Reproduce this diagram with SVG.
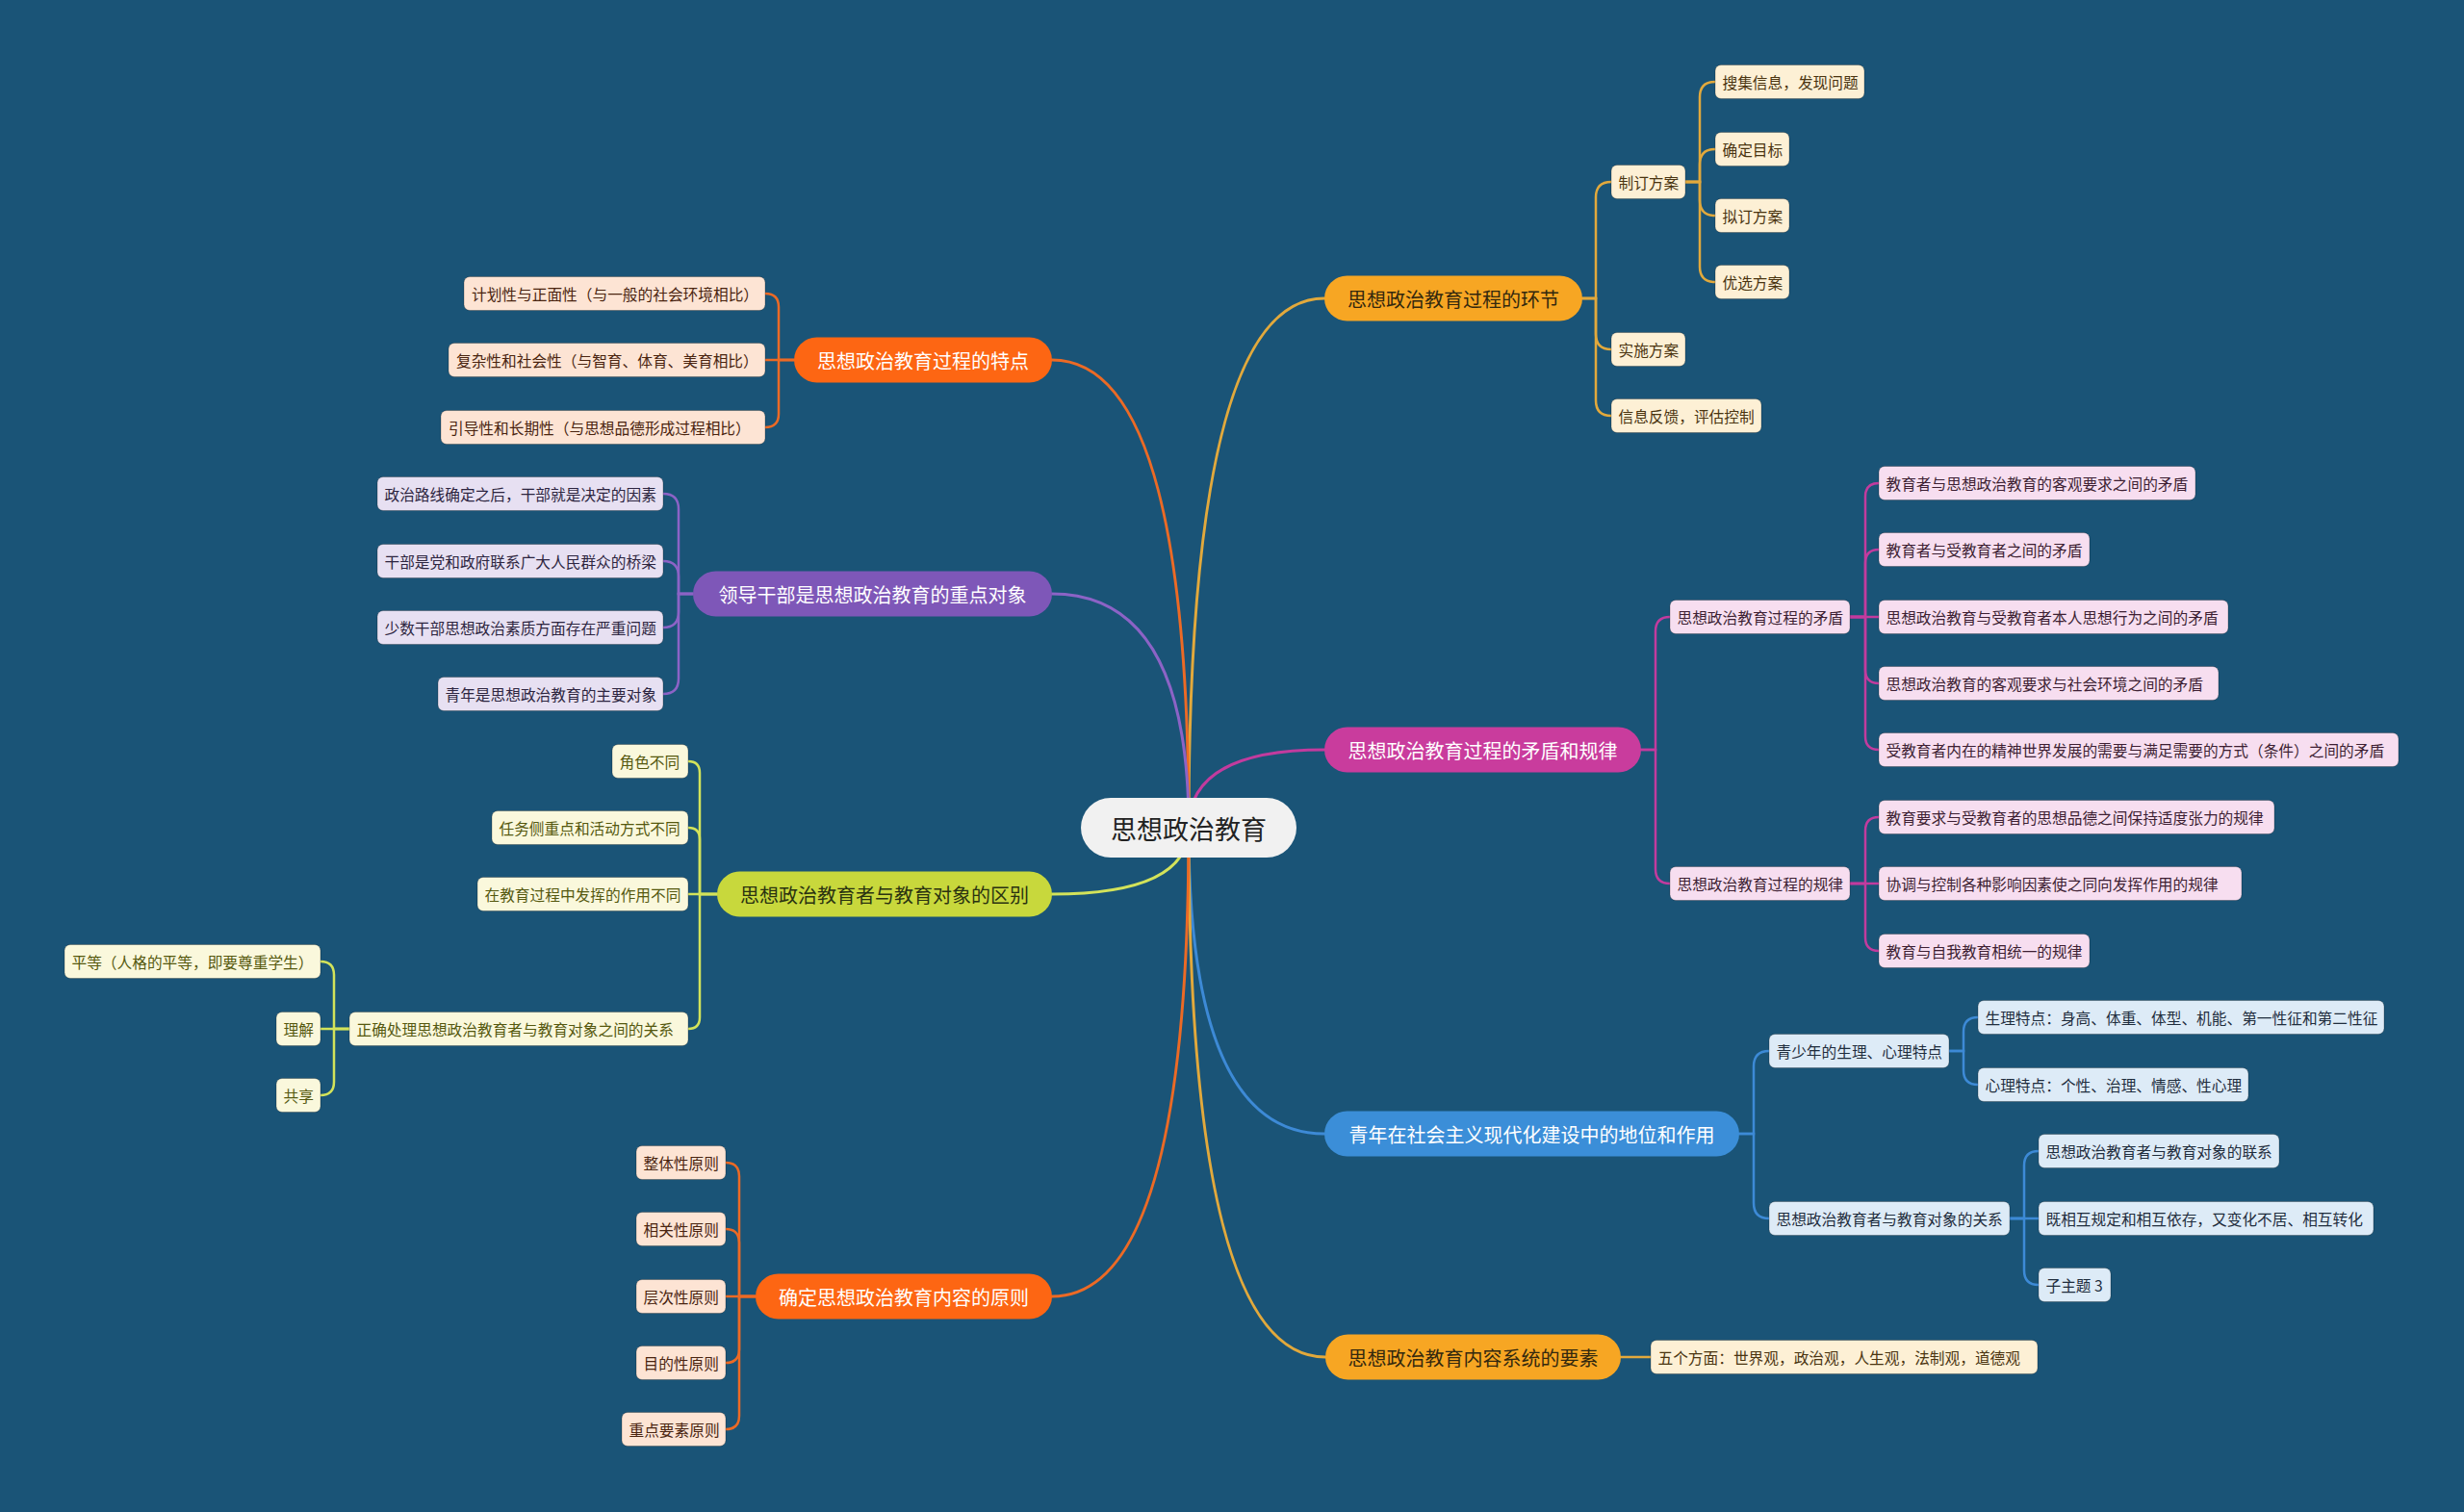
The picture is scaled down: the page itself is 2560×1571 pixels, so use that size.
<svg xmlns="http://www.w3.org/2000/svg" width="2560" height="1571" viewBox="0 0 2560 1571">
<style>
text{font-family:"Noto Sans CJK SC","Noto Sans",sans-serif;dominant-baseline:central}
.m{font-size:20px;text-anchor:middle}
.s{font-size:15.7px}
.c{fill:none;stroke-width:2.5;stroke-linecap:round}
.mc{fill:none;stroke-width:3;stroke-linecap:round}
.sn{stroke:rgba(0,0,0,0.25);stroke-width:1}
.amb{stroke:#E2A93C}.mag{stroke:#C23B9E}.blu{stroke:#3D8AD6}.org{stroke:#EC6A25}.pur{stroke:#8C63C6}.lim{stroke:#D3E35A}
.fa{fill:#F7A623}.fm{fill:#C93C9D}.fb{fill:#3B8ED8}.fo{fill:#FD6613}.fp{fill:#7E57B8}.fl{fill:#C8D83C}
.ca{fill:#FDF0D5}.cm{fill:#F7DEF0}.cb{fill:#DDEBF7}.co{fill:#FDE4D4}.cp{fill:#E7E0F2}.cl{fill:#FAF8DC}
.ta{fill:#4A3410}.tm{fill:#3D1F33}.tb{fill:#1F2D3D}.to{fill:#4A2410}.tp{fill:#2D2540}.tl{fill:#55580F}
.w{fill:#FFFFFF}.d{fill:#33280E}
</style>
<rect x="0" y="0" width="2560" height="1571" fill="#1A5477"/>
<g id="connectors">
<path class="mc amb" d="M1235 860 Q1235 310 1376 310"/>
<path class="mc mag" d="M1235 860 Q1235 779 1376 779"/>
<path class="mc blu" d="M1235 860 Q1235 1178 1376 1178"/>
<path class="mc amb" d="M1235 860 Q1235 1410 1377 1410"/>
<path class="mc org" d="M1235 860 Q1235 374 1093 374"/>
<path class="mc pur" d="M1235 860 Q1235 617 1093 617"/>
<path class="mc lim" d="M1235 860 Q1235 929 1093 929"/>
<path class="mc org" d="M1235 860 Q1235 1347 1093 1347"/>
<path class="c amb" d="M1644 310 H1658 V205 Q1658 189 1674 189"/>
<path class="c amb" d="M1644 310 H1658 V347 Q1658 363 1674 363"/>
<path class="c amb" d="M1644 310 H1658 V416 Q1658 432 1674 432"/>
<path class="c amb" d="M1751 189 H1766 V101 Q1766 85 1782 85"/>
<path class="c amb" d="M1751 189 H1766 V171 Q1766 155 1782 155"/>
<path class="c amb" d="M1751 189 H1766 V208 Q1766 224 1782 224"/>
<path class="c amb" d="M1751 189 H1766 V277 Q1766 293 1782 293"/>
<path class="c mag" d="M1705 779 H1720 V656 Q1720 641 1735 641"/>
<path class="c mag" d="M1705 779 H1720 V903 Q1720 918 1735 918"/>
<path class="c mag" d="M1922 641 H1938 V516 Q1938 502 1952 502"/>
<path class="c mag" d="M1922 641 H1938 V585 Q1938 571 1952 571"/>
<path class="c mag" d="M1922 641 H1952"/>
<path class="c mag" d="M1922 641 H1938 V696 Q1938 710 1952 710"/>
<path class="c mag" d="M1922 641 H1938 V765 Q1938 779 1952 779"/>
<path class="c mag" d="M1922 918 H1938 V863 Q1938 849 1952 849"/>
<path class="c mag" d="M1922 918 H1952"/>
<path class="c mag" d="M1922 918 H1938 V974 Q1938 988 1952 988"/>
<path class="c blu" d="M1807 1178 H1822 V1108 Q1822 1092 1838 1092"/>
<path class="c blu" d="M1807 1178 H1822 V1250 Q1822 1266 1838 1266"/>
<path class="c blu" d="M2025 1092 H2040 V1072 Q2040 1057 2055 1057"/>
<path class="c blu" d="M2025 1092 H2040 V1112 Q2040 1127 2055 1127"/>
<path class="c blu" d="M2088 1266 H2103 V1211 Q2103 1196 2118 1196"/>
<path class="c blu" d="M2088 1266 H2118"/>
<path class="c blu" d="M2088 1266 H2103 V1320 Q2103 1335 2118 1335"/>
<path class="c amb" d="M1684 1410 H1715"/>
<path class="c org" d="M825 374 H809 V319 Q809 305 795 305"/>
<path class="c org" d="M825 374 H795"/>
<path class="c org" d="M825 374 H809 V430 Q809 444 795 444"/>
<path class="c pur" d="M720 617 H705 V529 Q705 513 689 513"/>
<path class="c pur" d="M720 617 H705 V599 Q705 583 689 583"/>
<path class="c pur" d="M720 617 H705 V636 Q705 652 689 652"/>
<path class="c pur" d="M720 617 H705 V705 Q705 721 689 721"/>
<path class="c lim" d="M745 929 H727 V803 Q727 791 715 791"/>
<path class="c lim" d="M745 929 H727 V872 Q727 860 715 860"/>
<path class="c lim" d="M745 929 H715"/>
<path class="c lim" d="M745 929 H727 V1057 Q727 1069 715 1069"/>
<path class="c lim" d="M363 1069 H347 V1013 Q347 999 333 999"/>
<path class="c lim" d="M363 1069 H333"/>
<path class="c lim" d="M363 1069 H347 V1124 Q347 1138 333 1138"/>
<path class="c org" d="M785 1347 H768 V1222 Q768 1208 754 1208"/>
<path class="c org" d="M785 1347 H768 V1291 Q768 1277 754 1277"/>
<path class="c org" d="M785 1347 H754"/>
<path class="c org" d="M785 1347 H768 V1402 Q768 1416 754 1416"/>
<path class="c org" d="M785 1347 H768 V1471 Q768 1485 754 1485"/>
</g>
<g id="center"><rect x="1123" y="829" width="224" height="62" rx="31" fill="#F1F1F1"/><text x="1235" y="860" font-size="27" text-anchor="middle" fill="#222222">思想政治教育</text></g>

<g id="n-huanjie"><rect class="fa" x="1376" y="286.5" width="268" height="47" rx="23.5"/><text class="m d" x="1510" y="310">思想政治教育过程的环节</text></g>
<g id="n-zhiding"><rect class="ca sn" x="1674" y="171.5" width="77" height="35" rx="6"/><text class="s ta" x="1681.5" y="189">制订方案</text></g>
<g id="n-souji"><rect class="ca sn" x="1782" y="67.5" width="155" height="35" rx="6"/><text class="s ta" x="1789.5" y="85">搜集信息，发现问题</text></g>
<g id="n-queding"><rect class="ca sn" x="1782" y="137.5" width="77" height="35" rx="6"/><text class="s ta" x="1789.5" y="155">确定目标</text></g>
<g id="n-niding"><rect class="ca sn" x="1782" y="206.5" width="77" height="35" rx="6"/><text class="s ta" x="1789.5" y="224">拟订方案</text></g>
<g id="n-youxuan"><rect class="ca sn" x="1782" y="275.5" width="77" height="35" rx="6"/><text class="s ta" x="1789.5" y="293">优选方案</text></g>
<g id="n-shishi"><rect class="ca sn" x="1674" y="345.5" width="77" height="35" rx="6"/><text class="s ta" x="1681.5" y="363">实施方案</text></g>
<g id="n-xinxi"><rect class="ca sn" x="1674" y="414.5" width="156" height="35" rx="6"/><text class="s ta" x="1681.5" y="432">信息反馈，评估控制</text></g>

<g id="n-maodunguilv"><rect class="fm" x="1376" y="755.5" width="329" height="47" rx="23.5"/><text class="m w" x="1540.5" y="779">思想政治教育过程的矛盾和规律</text></g>
<g id="n-maodun"><rect class="cm sn" x="1735" y="623.5" width="187" height="35" rx="6"/><text class="s tm" x="1742.5" y="641">思想政治教育过程的矛盾</text></g>
<g id="n-guilv"><rect class="cm sn" x="1735" y="900.5" width="187" height="35" rx="6"/><text class="s tm" x="1742.5" y="918">思想政治教育过程的规律</text></g>
<g id="n-m1"><rect class="cm sn" x="1952" y="484.5" width="329" height="35" rx="6"/><text class="s tm" x="1959.5" y="502">教育者与思想政治教育的客观要求之间的矛盾</text></g>
<g id="n-m2"><rect class="cm sn" x="1952" y="553.5" width="219" height="35" rx="6"/><text class="s tm" x="1959.5" y="571">教育者与受教育者之间的矛盾</text></g>
<g id="n-m3"><rect class="cm sn" x="1952" y="623.5" width="363" height="35" rx="6"/><text class="s tm" x="1959.5" y="641">思想政治教育与受教育者本人思想行为之间的矛盾</text></g>
<g id="n-m4"><rect class="cm sn" x="1952" y="692.5" width="353" height="35" rx="6"/><text class="s tm" x="1959.5" y="710">思想政治教育的客观要求与社会环境之间的矛盾</text></g>
<g id="n-m5"><rect class="cm sn" x="1952" y="761.5" width="540" height="35" rx="6"/><text class="s tm" x="1959.5" y="779">受教育者内在的精神世界发展的需要与满足需要的方式（条件）之间的矛盾</text></g>
<g id="n-g1"><rect class="cm sn" x="1952" y="831.5" width="411" height="35" rx="6"/><text class="s tm" x="1959.5" y="849">教育要求与受教育者的思想品德之间保持适度张力的规律</text></g>
<g id="n-g2"><rect class="cm sn" x="1952" y="900.5" width="377" height="35" rx="6"/><text class="s tm" x="1959.5" y="918">协调与控制各种影响因素使之同向发挥作用的规律</text></g>
<g id="n-g3"><rect class="cm sn" x="1952" y="970.5" width="219" height="35" rx="6"/><text class="s tm" x="1959.5" y="988">教育与自我教育相统一的规律</text></g>

<g id="n-qingnian"><rect class="fb" x="1376" y="1154.5" width="431" height="47" rx="23.5"/><text class="m w" x="1591.5" y="1178">青年在社会主义现代化建设中的地位和作用</text></g>
<g id="n-qingshaonian"><rect class="cb sn" x="1838" y="1074.5" width="187" height="35" rx="6"/><text class="s tb" x="1845.5" y="1092">青少年的生理、心理特点</text></g>
<g id="n-guanxi"><rect class="cb sn" x="1838" y="1248.5" width="250" height="35" rx="6"/><text class="s tb" x="1845.5" y="1266">思想政治教育者与教育对象的关系</text></g>
<g id="n-s1"><rect class="cb sn" x="2055" y="1039.5" width="422" height="35" rx="6"/><text class="s tb" x="2062.5" y="1057">生理特点：身高、体重、体型、机能、第一性征和第二性征</text></g>
<g id="n-s2"><rect class="cb sn" x="2055" y="1109.5" width="281" height="35" rx="6"/><text class="s tb" x="2062.5" y="1127">心理特点：个性、治理、情感、性心理</text></g>
<g id="n-r1"><rect class="cb sn" x="2118" y="1178.5" width="250" height="35" rx="6"/><text class="s tb" x="2125.5" y="1196">思想政治教育者与教育对象的联系</text></g>
<g id="n-r2"><rect class="cb sn" x="2118" y="1248.5" width="348" height="35" rx="6"/><text class="s tb" x="2125.5" y="1266">既相互规定和相互依存，又变化不居、相互转化</text></g>
<g id="n-r3"><rect class="cb sn" x="2118" y="1317.5" width="75" height="35" rx="6"/><text class="s tb" x="2125.5" y="1335">子主题 3</text></g>

<g id="n-yaosu"><rect class="fa" x="1377" y="1386.5" width="307" height="47" rx="23.5"/><text class="m d" x="1530.5" y="1410">思想政治教育内容系统的要素</text></g>
<g id="n-wuge"><rect class="ca sn" x="1715" y="1392.5" width="402" height="35" rx="6"/><text class="s ta" x="1722.5" y="1410">五个方面：世界观，政治观，人生观，法制观，道德观</text></g>

<g id="n-tedian"><rect class="fo" x="825" y="350.5" width="268" height="47" rx="23.5"/><text class="m w" x="959" y="374">思想政治教育过程的特点</text></g>
<g id="n-t1"><rect class="co sn" x="482" y="287.5" width="313" height="35" rx="6"/><text class="s to" x="490" y="305">计划性与正面性（与一般的社会环境相比）</text></g>
<g id="n-t2"><rect class="co sn" x="466" y="356.5" width="329" height="35" rx="6"/><text class="s to" x="474" y="374">复杂性和社会性（与智育、体育、美育相比）</text></g>
<g id="n-t3"><rect class="co sn" x="458" y="426.5" width="337" height="35" rx="6"/><text class="s to" x="466" y="444">引导性和长期性（与思想品德形成过程相比）</text></g>

<g id="n-lingdao"><rect class="fp" x="720" y="593.5" width="373" height="47" rx="23.5"/><text class="m w" x="906.5" y="617">领导干部是思想政治教育的重点对象</text></g>
<g id="n-l1"><rect class="cp sn" x="392" y="495.5" width="297" height="35" rx="6"/><text class="s tp" x="399.5" y="513">政治路线确定之后，干部就是决定的因素</text></g>
<g id="n-l2"><rect class="cp sn" x="392" y="565.5" width="297" height="35" rx="6"/><text class="s tp" x="399.5" y="583">干部是党和政府联系广大人民群众的桥梁</text></g>
<g id="n-l3"><rect class="cp sn" x="392" y="634.5" width="297" height="35" rx="6"/><text class="s tp" x="399.5" y="652">少数干部思想政治素质方面存在严重问题</text></g>
<g id="n-l4"><rect class="cp sn" x="455" y="703.5" width="234" height="35" rx="6"/><text class="s tp" x="462.5" y="721">青年是思想政治教育的主要对象</text></g>

<g id="n-qubie"><rect class="fl" x="745" y="905.5" width="348" height="47" rx="23.5"/><text class="m" x="919" y="929" fill="#2A3210">思想政治教育者与教育对象的区别</text></g>
<g id="n-q1"><rect class="cl sn" x="636" y="773.5" width="79" height="35" rx="6"/><text class="s tl" x="643.5" y="791">角色不同</text></g>
<g id="n-q2"><rect class="cl sn" x="511" y="842.5" width="204" height="35" rx="6"/><text class="s tl" x="518.5" y="860">任务侧重点和活动方式不同</text></g>
<g id="n-q3"><rect class="cl sn" x="496" y="911.5" width="219" height="35" rx="6"/><text class="s tl" x="503.5" y="929">在教育过程中发挥的作用不同</text></g>
<g id="n-q4"><rect class="cl sn" x="363" y="1051.5" width="352" height="35" rx="6"/><text class="s tl" x="370.5" y="1069">正确处理思想政治教育者与教育对象之间的关系</text></g>
<g id="n-p1"><rect class="cl sn" x="67" y="981.5" width="266" height="35" rx="6"/><text class="s tl" x="74.5" y="999">平等（人格的平等，即要尊重学生）</text></g>
<g id="n-p2"><rect class="cl sn" x="287" y="1051.5" width="46" height="35" rx="6"/><text class="s tl" x="294.5" y="1069">理解</text></g>
<g id="n-p3"><rect class="cl sn" x="287" y="1120.5" width="46" height="35" rx="6"/><text class="s tl" x="294.5" y="1138">共享</text></g>

<g id="n-yuanze"><rect class="fo" x="785" y="1323.5" width="308" height="47" rx="23.5"/><text class="m w" x="939" y="1347">确定思想政治教育内容的原则</text></g>
<g id="n-y1"><rect class="co sn" x="661" y="1190.5" width="93" height="35" rx="6"/><text class="s to" x="668.5" y="1208">整体性原则</text></g>
<g id="n-y2"><rect class="co sn" x="661" y="1259.5" width="93" height="35" rx="6"/><text class="s to" x="668.5" y="1277">相关性原则</text></g>
<g id="n-y3"><rect class="co sn" x="661" y="1329.5" width="93" height="35" rx="6"/><text class="s to" x="668.5" y="1347">层次性原则</text></g>
<g id="n-y4"><rect class="co sn" x="661" y="1398.5" width="93" height="35" rx="6"/><text class="s to" x="668.5" y="1416">目的性原则</text></g>
<g id="n-y5"><rect class="co sn" x="646" y="1467.5" width="108" height="35" rx="6"/><text class="s to" x="653.5" y="1485">重点要素原则</text></g>
</svg>
